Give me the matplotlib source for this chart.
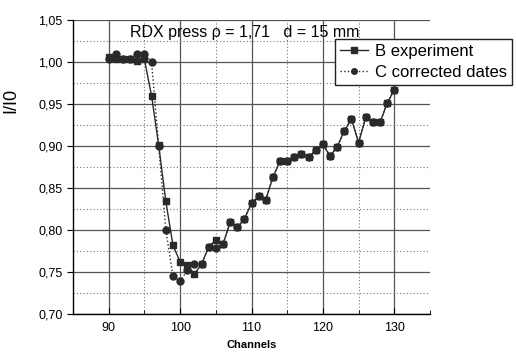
import matplotlib
matplotlib.use("Agg")
import matplotlib.pyplot as plt
from matplotlib.ticker import MultipleLocator, FuncFormatter

plt.rcParams['font.family'] = ['Liberation Sans', 'DejaVu Sans']

# Canais e intensidades
channels = list(range(90, 131))
b_experiment = [1.006, 1.004, 1.003, 1.003, 1.001, 1.003, 0.960, 0.901, 0.834, 0.782,
                0.762, 0.758, 0.748, 0.759, 0.780, 0.788, 0.783, 0.809, 0.803, 0.813,
                0.832, 0.840, 0.836, 0.863, 0.882, 0.882, 0.887, 0.890, 0.887, 0.895,
                0.902, 0.888, 0.899, 0.918, 0.932, 0.904, 0.934, 0.928, 0.928, 0.951,
                0.967]
c_corrected = [1.004, 1.010, 1.003, 1.003, 1.010, 1.010, 1.000, 0.900, 0.800, 0.745,
               0.739, 0.752, 0.760, 0.759, 0.780, 0.778, 0.783, 0.809, 0.803, 0.813,
               0.832, 0.840, 0.836, 0.863, 0.882, 0.882, 0.887, 0.890, 0.887, 0.895,
               0.902, 0.888, 0.899, 0.918, 0.932, 0.904, 0.934, 0.928, 0.928, 0.951,
               0.967]

x_ticks = [90, 100, 110, 120, 130]
y_ticks = [0.70, 0.75, 0.80, 0.85, 0.90, 0.95, 1.00, 1.05]

fig = plt.figure(figsize=(5.16, 3.52), dpi=100)
ax = fig.add_axes([73 / 516, 1 - 314 / 352, (430 - 73) / 516, (314 - 20) / 352])

ax.plot(channels, b_experiment, '-s', color='#2a2a2a', lw=1.0, ms=5,
        label='B experiment')
ax.plot(channels, c_corrected, ':o', color='#2a2a2a', lw=1.0, ms=5,
        label='C corrected dates')

ax.set_xlim(85, 135)
ax.set_ylim(0.70, 1.05)
ax.set_xticks(x_ticks)
ax.set_yticks(y_ticks)
ax.xaxis.set_minor_locator(MultipleLocator(5))
ax.yaxis.set_minor_locator(MultipleLocator(0.025))
ax.yaxis.set_major_formatter(FuncFormatter(lambda v, pos: f"{v:.2f}".replace('.', ',')))

# Grade: linhas principais cheias, secundarias pontilhadas
ax.grid(which='major', color='#555555', lw=0.9, ls='-')
ax.grid(which='minor', color='#777777', lw=0.8, ls=(0, (1, 2)))
ax.set_axisbelow(True)

for side in ('top', 'right'):
    ax.spines[side].set_visible(False)
ax.spines['left'].set_linewidth(1.0)
ax.spines['bottom'].set_linewidth(1.0)

ax.tick_params(axis='x', which='major', direction='in', length=4, labelsize=9, pad=6)
ax.tick_params(axis='x', which='minor', direction='in', length=3)
ax.tick_params(axis='y', which='major', direction='out', length=4, labelsize=9)
ax.tick_params(axis='y', which='minor', direction='out', length=0)

ax.set_xlabel('Channels', fontsize=8, fontweight='bold', labelpad=4)
ax.set_ylabel('I/I0', fontsize=13)
ax.yaxis.set_label_coords((19 - 73) / 357, (314 - 100) / 294)

fig.text(130 / 516, 1 - 32 / 352, 'RDX press ρ = 1,71   d = 15 mm', fontsize=11.5,
         va='center', ha='left')

leg = ax.legend(loc='upper left', bbox_to_anchor=(335 / 516, 1 - 39 / 352),
                bbox_transform=fig.transFigure, fontsize=12, fancybox=False,
                framealpha=1, edgecolor='#222222', handlelength=1.7, markerscale=0.8,
                borderpad=0.3, labelspacing=0.35, handletextpad=0.4, borderaxespad=0)
leg.get_frame().set_linewidth(1.0)

fig.savefig('out.png', dpi=100)
